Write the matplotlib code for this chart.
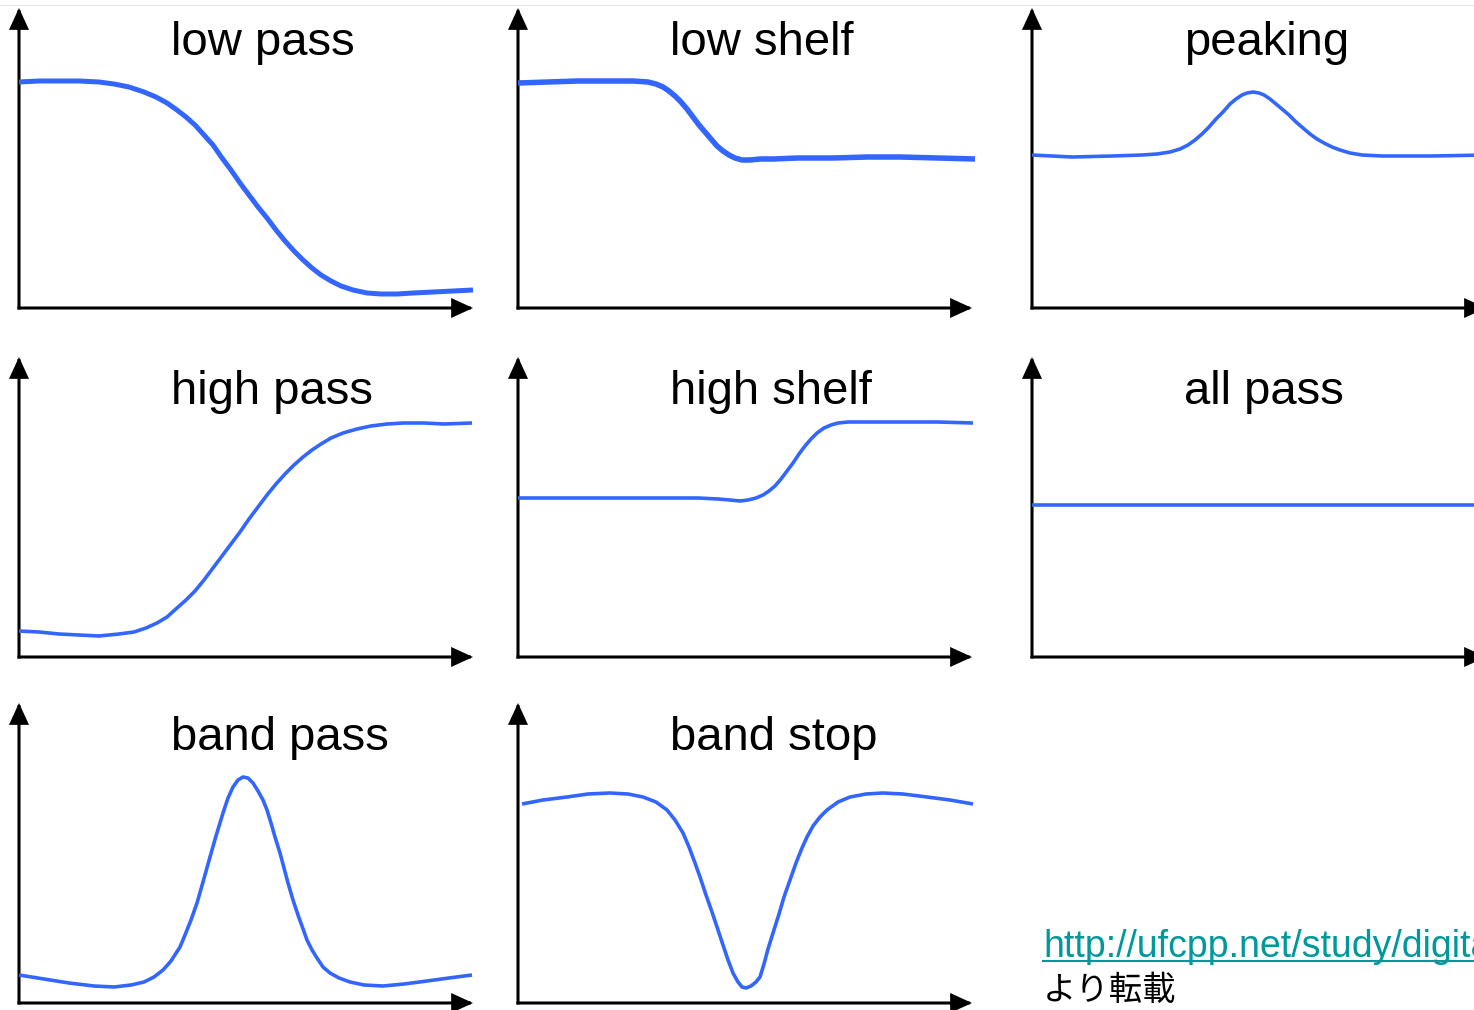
import matplotlib
matplotlib.use("Agg")
import matplotlib.pyplot as plt
from matplotlib.patches import FancyArrowPatch
from matplotlib.lines import Line2D

W, H = 1474, 1010
BLUE = "#3366ff"

# response curves (x: along the frequency axis, y: gain, panel pixel units)
lowpass_x = [0, 20, 40, 60, 80, 95, 110, 125, 137, 148, 158, 167, 176, 185, 194, 203, 212, 221,
             230, 239, 248, 257, 266, 275, 284, 293, 302, 312, 322, 334, 348, 362, 378, 394, 414,
             434, 454]
lowpass_y = [226, 227, 227, 227, 226, 224, 221, 216, 211, 205, 198, 191, 183, 173, 163, 150, 138,
             125, 113, 101, 90, 78, 67, 57, 48, 40, 33, 27, 22, 18, 15, 14, 14, 15, 16, 17, 18]

lowshelf_x = [0, 30, 60, 90, 115, 130, 138, 145, 151, 157, 163, 169, 175, 181, 187, 193, 199,
              205, 211, 217, 224, 232, 242, 255, 280, 315, 350, 382, 420, 457]
lowshelf_y = [225, 226, 227, 227, 227, 226, 224, 221, 217, 212, 206, 199, 191, 183, 176, 169,
              162, 157, 153, 150, 148, 148, 149, 149, 150, 150, 151, 151, 150, 149]

peaking_x = [0, 40, 80, 110, 125, 138, 148, 156, 163, 170, 177, 184, 191, 198, 204, 210, 215,
             221, 227, 232, 238, 244, 250, 257, 264, 271, 278, 285, 292, 300, 308, 318, 330, 350,
             400, 454]
peaking_y = [153, 151, 152, 153, 154, 156, 159, 163, 168, 174, 181, 189, 196, 204, 209, 213, 215,
             216, 215, 213, 209, 204, 199, 193, 186, 180, 174, 169, 165, 161, 158, 155, 153, 152,
             152, 153]

highpass_x = [0, 20, 40, 60, 80, 100, 115, 127, 138, 148, 158, 167, 176, 185, 194, 203, 212, 221,
              230, 239, 248, 257, 266, 275, 284, 293, 302, 312, 324, 338, 352, 368, 385, 405, 425,
              453]
highpass_y = [26, 25, 23, 22, 21, 23, 25, 29, 34, 40, 49, 57, 66, 77, 89, 101, 113, 125, 138, 150,
              162, 173, 183, 192, 200, 207, 213, 219, 224, 228, 231, 233, 234, 234, 233, 234]

highshelf_x = [0, 50, 100, 150, 180, 200, 212, 222, 230, 238, 245, 251, 257, 263, 269, 275, 281,
               287, 293, 299, 306, 313, 320, 330, 350, 380, 420, 455]
highshelf_y = [159, 159, 159, 159, 159, 158, 157, 156, 157, 159, 162, 166, 171, 178, 186, 194,
               203, 211, 218, 224, 229, 232, 234, 235, 235, 235, 235, 234]

allpass_x = [0, 454]
allpass_y = [152, 152]

bandpass_x = [0, 25, 50, 75, 95, 112, 125, 135, 144, 152, 161, 166, 172, 178, 184, 191, 197, 204,
              209, 214, 219, 224, 229, 234, 239, 244, 248, 252, 256, 261, 265, 269, 274, 279, 283,
              288, 293, 298, 304, 311, 320, 331, 345, 364, 385, 408, 430, 453]
bandpass_y = [28, 24, 20, 17, 16, 18, 21, 26, 33, 42, 56, 68, 83, 100, 121, 146, 167, 190, 205,
              216, 223, 226, 225, 220, 212, 203, 193, 180, 166, 150, 135, 120, 103, 88, 77, 63, 53,
              45, 36, 30, 25, 21, 18, 17, 19, 22, 25, 28]

bandstop_x = [4, 25, 49, 70, 92, 110, 125, 138, 149, 157, 165, 171, 177, 182, 188, 194, 199, 205,
              210, 215, 220, 224, 228, 233, 238, 242, 246, 250, 255, 261, 266, 272, 278, 284, 289,
              295, 302, 309, 320, 332, 348, 365, 385, 409, 432, 455]
bandstop_y = [199, 203, 206, 209, 210, 209, 206, 201, 193, 183, 170, 156, 140, 126, 108, 91, 76,
              58, 43, 30, 21, 16, 15, 17, 21, 26, 39, 54, 70, 89, 106, 123, 140, 155, 166, 177,
              186, 193, 201, 206, 209, 210, 209, 206, 203, 199]

titles = ["low pass", "low shelf", "peaking",
          "high pass", "high shelf", "all pass",
          "band pass", "band stop"]
curves = [(lowpass_x, lowpass_y), (lowshelf_x, lowshelf_y), (peaking_x, peaking_y),
          (highpass_x, highpass_y), (highshelf_x, highshelf_y), (allpass_x, allpass_y),
          (bandpass_x, bandpass_y), (bandstop_x, bandstop_y)]
line_widths = [5, 5.5, 3.6, 3.6, 3.6, 3.6, 3.6, 3.6]  # px

# layout in pixels: y-axis position per column, x-axis position per row
col_left = [19, 518, 1032]
row_base = [308, 657, 1003]
panel_w, panel_h = 454, 300

fig = plt.figure(figsize=(W / 100, H / 100), dpi=100)
fig.patch.set_facecolor("white")

# thin grey rule at the very top
fig.add_artist(Line2D([0, 1], [1 - 5 / H, 1 - 5 / H], transform=fig.transFigure,
                      color="#e6e6e6", lw=0.8))

for i, (title, (xs, ys)) in enumerate(zip(titles, curves)):
    r, c = divmod(i, 3)
    left = col_left[c] / W
    bottom = 1 - row_base[r] / H
    ax = fig.add_axes([left, bottom, panel_w / W, panel_h / H])
    ax.set_xlim(0, panel_w)
    ax.set_ylim(0, panel_h)
    ax.axis("off")

    ax.plot(xs, ys, color=BLUE, lw=line_widths[i] * 0.72,
            solid_capstyle="butt", solid_joinstyle="round", clip_on=False)

    for end in [(1, 0), (0, 1)]:
        arr = FancyArrowPatch((0, 0), end, transform=ax.transAxes,
                              arrowstyle="-|>,head_length=12,head_width=5.5",
                              mutation_scale=1, shrinkA=0, shrinkB=0,
                              color="black", lw=2.2, clip_on=False,
                              capstyle="projecting", joinstyle="miter")
        ax.add_patch(arr)

    ax.text(152, 253, title, fontsize=34, family=["Liberation Sans"],
            ha="left", va="baseline", color="black")

# source note (cut off at the right edge, as in the original)
url = fig.text(1043 / W, 1 - 957 / H, "http://ufcpp.net/study/digital/",
               fontsize=27, family=["Liberation Sans"], color="#00999a",
               ha="left", va="baseline")
fig.text(1043 / W, 1 - 1000 / H, "より転載", fontsize=24,
         family=["Noto Sans CJK JP", "DejaVu Sans"], color="black",
         ha="left", va="baseline")

fig.canvas.draw()
bb = url.get_window_extent()
fig.add_artist(Line2D([1043 / W, bb.x1 / W], [1 - 961 / H, 1 - 961 / H],
                      transform=fig.transFigure, color="#00999a", lw=1.5))

plt.savefig("out.png", dpi=100)
